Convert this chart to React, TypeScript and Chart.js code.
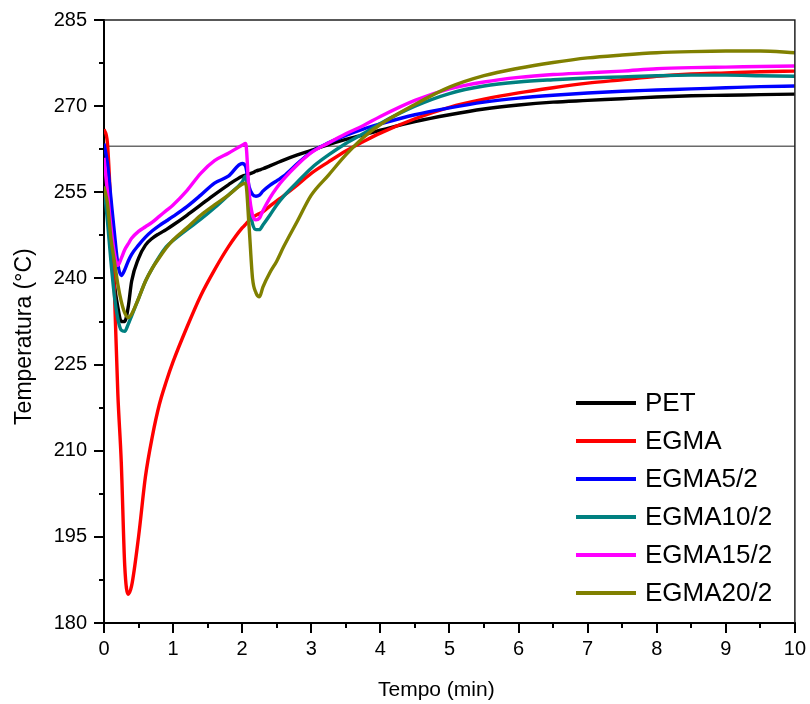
import React, { useEffect, useRef } from 'react';
import { Chart, registerables } from 'chart.js';

Chart.register(...registerables);

// Time axis (min)
const TIME = [
  0, 0.05, 0.1, 0.15, 0.2, 0.25, 0.3, 0.35, 0.4, 0.5, 0.6, 0.7, 0.8, 0.9, 1.0,
  1.2, 1.4, 1.6, 1.8, 2.0, 2.05, 2.1, 2.15, 2.2, 2.25, 2.3, 2.4, 2.5, 2.6, 2.8,
  3.0, 3.25, 3.5, 3.75, 4.0, 4.5, 5.0, 5.5, 6.0, 6.5, 7.0, 7.5, 8.0, 8.5, 9.0, 9.5, 10.0,
];

const PET = [
  258, 253, 246, 239, 235, 232.5, 232.5, 235, 239.5, 243.5, 245.8, 247, 247.8, 248.5, 249.3,
  251, 252.8, 254.6, 256.3, 257.8, 258.0, 258.2, 258.4, 258.7, 258.9, 259.1, 259.6, 260.1, 260.6, 261.5,
  262.3, 263.3, 264.2, 265.0, 265.8, 267.3, 268.5, 269.5, 270.2, 270.7, 271.0, 271.3, 271.6, 271.8, 271.9, 272.0, 272.1,
];

const EGMA = [
  266, 263.5, 252, 238, 220, 208, 190, 185, 186.5, 195, 205.5, 212.5, 218, 222, 225.5,
  231.5, 237, 241.5, 245.5, 248.8, 249.4, 250.1, 250.6, 251.0, 251.3, 251.6, 252.6, 253.5, 254.4, 256.3,
  258.3, 260.3, 262.2, 263.8, 265.3, 267.8, 269.8, 271.2, 272.3, 273.2, 274.0, 274.6, 275.2, 275.6, 275.8, 276.0, 276.1,
];

const EGMA5_2 = [
  263.5, 260, 254, 248, 242.5, 240.5, 241.5, 243, 244.2, 245.8, 247.2, 248.3, 249.2, 250, 250.8,
  252.5, 254.5, 256.6, 257.8, 260, 259.5, 256, 254.6, 254.3, 254.5, 255.2, 256.2, 257, 257.8, 260,
  262, 263.6, 264.9, 266, 266.9, 268.5, 269.7, 270.7, 271.4, 271.9, 272.3, 272.6, 272.8, 273.0, 273.2, 273.4, 273.5,
];

const EGMA10_2 = [
  256, 250, 243, 237, 233, 231, 230.8, 232, 233.5, 236.5, 239.5, 241.8, 243.8, 245.5, 246.6,
  248.5, 250.3, 252.3, 254.5, 256.8, 257.8, 253, 249.5, 248.5, 248.5, 249.3, 251, 252.8, 254.3, 256.8,
  259.2, 261.5, 263.5, 265.2, 267.0, 270, 272.2, 273.5, 274.2, 274.6, 274.9, 275.1, 275.3, 275.4, 275.4, 275.3, 275.2,
];

const EGMA15_2 = [
  261, 255, 249, 244.5, 242.3, 243.5, 245, 246, 247, 248.2, 249, 249.8, 250.8, 251.8, 252.8,
  255.3, 258.3, 260.5, 261.8, 263.2, 263.5, 255, 251, 250.2, 250.5, 251.8, 254, 255.8, 257.3, 259.8,
  261.9, 263.6, 265.2, 266.6, 268.2, 271, 273, 274.2, 275, 275.5, 275.8, 276.1, 276.5, 276.7, 276.8, 276.9, 277,
];

const EGMA20_2 = [
  256, 253, 247, 243, 239, 236, 234, 233.2, 233.8, 236.5, 239.5, 241.8, 243.6, 245.3, 246.7,
  248.8, 251, 252.8, 254.5, 256.4, 256.6, 249, 240, 237.5, 236.8, 238.5, 241, 243, 245.5, 250,
  254.5, 258, 261.5, 264.5, 266.8, 270.3, 273.3, 275.3, 276.6, 277.6, 278.4, 278.9, 279.3, 279.5, 279.6, 279.6, 279.3,
];

const SERIES = [PET, EGMA, EGMA5_2, EGMA10_2, EGMA15_2, EGMA20_2];
const SERIES_NAMES = ['PET', 'EGMA', 'EGMA5/2', 'EGMA10/2', 'EGMA15/2', 'EGMA20/2'];
const SERIES_COLORS = ['#000000', '#ff0000', '#0000ff', '#008080', '#ff00ff', '#808000'];

const X_MIN = 0;
const X_MAX = 10;
const X_STEP = 1;
const Y_MIN = 180;
const Y_MAX = 285;
const Y_STEP = 15;
const REF_TEMP = 263;

const X_TITLE = 'Tempo (min)';
const Y_TITLE = 'Temperatura (°C)';

const FONT = '"Liberation Sans", Arial, Helvetica, sans-serif';

const decorPlugin = {
  id: 'decor',
  beforeDatasetsDraw(chart: any) {
    const { ctx, chartArea: a, scales } = chart;
    const y = scales.y;
    const yy = y.getPixelForValue(REF_TEMP);
    ctx.save();
    ctx.strokeStyle = '#6a6a6a';
    ctx.lineWidth = 1.5;
    ctx.beginPath();
    ctx.moveTo(a.left, yy);
    ctx.lineTo(a.right, yy);
    ctx.stroke();
    ctx.restore();
  },
  afterDraw(chart: any) {
    const { ctx, chartArea: a, scales } = chart;
    const x = scales.x;
    const y = scales.y;
    ctx.save();
    // top & right frame
    ctx.strokeStyle = '#222';
    ctx.lineWidth = 1.5;
    ctx.beginPath();
    ctx.moveTo(a.left, a.top);
    ctx.lineTo(a.right, a.top);
    ctx.lineTo(a.right, a.bottom);
    ctx.stroke();

    // minor ticks
    ctx.strokeStyle = '#000';
    ctx.lineWidth = 2;
    ctx.beginPath();
    for (let v = Y_MIN + Y_STEP / 2; v < Y_MAX; v += Y_STEP) {
      const py = Math.round(y.getPixelForValue(v));
      ctx.moveTo(a.left, py);
      ctx.lineTo(a.left - 5, py);
    }
    for (let v = X_MIN + X_STEP / 2; v < X_MAX; v += X_STEP) {
      const px = Math.round(x.getPixelForValue(v));
      ctx.moveTo(px, a.bottom);
      ctx.lineTo(px, a.bottom + 5);
    }
    ctx.stroke();

    // axis titles
    ctx.fillStyle = '#000';
    ctx.font = `21px ${FONT}`;
    ctx.textAlign = 'center';
    ctx.textBaseline = 'middle';
    ctx.fillText(X_TITLE, a.left + (a.right - a.left) * 0.481, 690);
    ctx.save();
    ctx.font = `23px ${FONT}`;
    ctx.translate(25, a.top + (a.bottom - a.top) * 0.525);
    ctx.rotate(-Math.PI / 2);
    ctx.fillText(Y_TITLE, 0, 0);
    ctx.restore();

    // legend
    const lx = a.left + 472;
    const ly = a.top + 383;
    const rowH = 38;
    ctx.font = `26px ${FONT}`;
    ctx.textAlign = 'left';
    ctx.textBaseline = 'middle';
    SERIES_NAMES.forEach((name, i) => {
      const cy = ly + i * rowH;
      ctx.strokeStyle = SERIES_COLORS[i];
      ctx.lineWidth = 4;
      ctx.beginPath();
      ctx.moveTo(lx, cy);
      ctx.lineTo(lx + 60, cy);
      ctx.stroke();
      ctx.fillStyle = '#000';
      ctx.fillText(name, lx + 69, cy + 1);
    });
    ctx.restore();
  },
};

export default function App() {
  const ref = useRef<HTMLCanvasElement>(null);
  useEffect(() => {
    const canvas = ref.current;
    if (!canvas) return;
    const chart = new Chart(canvas, {
      type: 'line',
      data: {
        datasets: SERIES.map((vals, i) => ({
          label: SERIES_NAMES[i],
          data: TIME.map((t, k) => ({ x: t, y: vals[k] })),
          borderColor: SERIES_COLORS[i],
          backgroundColor: SERIES_COLORS[i],
          borderWidth: 3.4,
          pointRadius: 0,
          fill: false,
          cubicInterpolationMode: 'monotone' as const,
          order: SERIES.length - 1 - i,
        })),
      },
      options: {
        responsive: false,
        animation: false,
        layout: { padding: { top: 20, right: 14, left: 0, bottom: 0 } },
        plugins: {
          legend: { display: false },
          tooltip: { enabled: false },
        },
        scales: {
          x: {
            type: 'linear',
            min: X_MIN,
            max: X_MAX,
            ticks: {
              stepSize: X_STEP,
              color: '#000',
              font: { family: FONT, size: 20 },
              padding: 4,
              maxRotation: 0,
              callback: (v: any) => String(v),
            },
            grid: { drawOnChartArea: false, tickLength: 10, lineWidth: 2, color: '#000' },
            border: { display: true, width: 2, color: '#000' },
            afterFit: (s: any) => {
              s.height = 81;
            },
          },
          y: {
            type: 'linear',
            min: Y_MIN,
            max: Y_MAX,
            ticks: {
              stepSize: Y_STEP,
              color: '#000',
              font: { family: FONT, size: 20 },
              padding: 7,
              callback: (v: any) => String(v),
            },
            grid: { drawOnChartArea: false, tickLength: 10, lineWidth: 2, color: '#000' },
            border: { display: true, width: 2, color: '#000' },
            afterFit: (s: any) => {
              s.width = 104;
            },
          },
        },
      },
      plugins: [decorPlugin],
    });
    return () => chart.destroy();
  }, []);
  return (
    <div style={{ position: 'absolute', left: 0, top: 0, width: 810, height: 704, background: '#fff' }}>
      <canvas ref={ref} width={810} height={704} style={{ display: 'block' }} />
    </div>
  );
}
